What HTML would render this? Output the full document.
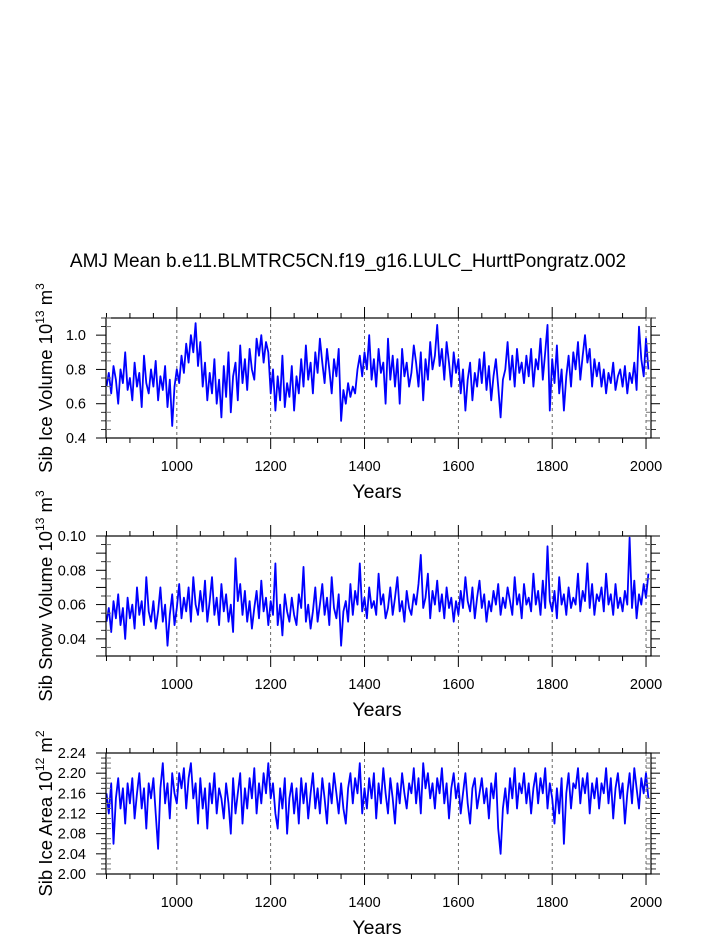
<!DOCTYPE html>
<html><head><meta charset="utf-8"><style>
body{margin:0;background:#fff;}
svg{display:block;font-family:"Liberation Sans",sans-serif;}
</style></head><body>
<svg id="chart" width="723" height="935" viewBox="0 0 723 935" xmlns="http://www.w3.org/2000/svg">
<text x="348" y="267" font-size="19" text-anchor="middle">AMJ Mean b.e11.BLMTRC5CN.f19_g16.LULC_HurttPongratz.002</text>
</svg>
<script>
const startYear = 850, stepYears = 5;
const iceVolume = [
.70,.78,.66,.82,.74,.60,.80,.72,.90,.68,
.75,.62,.84,.70,.78,.58,.88,.72,.66,.80,
.70,.85,.62,.76,.68,.82,.58,.74,.47,.70,
.80,.72,.88,.78,.95,.84,1.00,.90,1.07,.82,
.96,.70,.84,.62,.78,.66,.86,.60,.74,.52,
.82,.64,.90,.55,.76,.84,.62,.94,.72,.86,
.68,.92,.80,.74,.98,.88,1.00,.84,.96,.90,
.66,.80,.56,.76,.62,.88,.58,.72,.64,.82,
.56,.76,.66,.86,.70,.94,.74,.84,.66,.90,
.78,.98,.84,.72,.92,.80,.66,.86,.76,.92,
.50,.68,.60,.72,.64,.70,.66,.80,.88,.76,
.90,.80,1.00,.74,.86,.70,.92,.78,.84,.60,
.98,.74,.88,.70,.86,.60,.92,.76,.84,.70,
.78,.94,.84,.70,.90,.62,.86,.74,.96,.80,
.88,1.06,.82,.92,.74,.96,.84,.70,.90,.78,
.86,.66,.80,.56,.74,.84,.62,.78,.70,.86,
.72,.90,.68,.82,.62,.76,.86,.70,.52,.74,
.80,.96,.74,.88,.70,.92,.78,.84,.72,.88,
.76,.92,.70,.86,.80,.98,.74,.90,1.06,.56,
.86,.72,.94,.66,.80,.56,.76,.88,.70,.90,
.80,.96,.74,.88,1.00,.84,.92,.70,.86,.76,
.84,.70,.80,.66,.78,.72,.84,.68,.76,.80,
.70,.82,.66,.78,.72,.84,.68,1.05,.86,.76,
.98,.80];
const snowVolume = [
.050,.058,.044,.062,.052,.066,.048,.058,.040,.064,
.052,.060,.046,.070,.054,.062,.048,.076,.056,.050,
.062,.046,.056,.070,.050,.060,.036,.054,.066,.048,
.058,.072,.052,.064,.056,.070,.050,.076,.060,.054,
.068,.056,.074,.050,.062,.076,.054,.064,.048,.072,
.056,.066,.050,.060,.044,.087,.062,.072,.054,.068,
.050,.062,.046,.058,.068,.052,.074,.056,.064,.048,
.062,.054,.084,.048,.060,.042,.066,.056,.050,.064,
.054,.048,.066,.058,.082,.050,.060,.046,.056,.070,
.050,.060,.072,.054,.064,.048,.076,.058,.052,.066,
.036,.056,.062,.050,.072,.054,.068,.060,.084,.056,
.064,.052,.070,.058,.062,.054,.078,.060,.066,.052,
.058,.070,.054,.064,.076,.056,.062,.050,.068,.058,
.054,.066,.060,.072,.089,.058,.064,.078,.052,.068,
.060,.074,.056,.066,.052,.070,.058,.064,.050,.062,
.054,.068,.058,.076,.062,.056,.070,.052,.064,.074,
.058,.066,.050,.062,.056,.068,.060,.072,.054,.064,
.058,.070,.062,.054,.076,.060,.066,.052,.072,.060,
.064,.056,.078,.060,.068,.054,.074,.058,.094,.062,
.056,.068,.052,.076,.060,.066,.054,.070,.058,.064,
.060,.078,.056,.068,.062,.084,.058,.072,.054,.066,
.062,.070,.056,.078,.060,.066,.054,.072,.058,.064,
.056,.068,.060,.099,.058,.074,.052,.066,.060,.072,
.064,.078];
const iceArea = [
2.16,2.12,2.18,2.06,2.15,2.19,2.13,2.17,2.10,2.18,
2.14,2.19,2.11,2.16,2.20,2.13,2.17,2.09,2.18,2.15,
2.19,2.12,2.05,2.17,2.22,2.14,2.18,2.11,2.20,2.16,
2.14,2.20,2.17,2.21,2.13,2.19,2.22,2.15,2.18,2.10,
2.19,2.13,2.17,2.09,2.18,2.14,2.20,2.12,2.17,2.15,
2.11,2.18,2.14,2.08,2.19,2.12,2.16,2.20,2.10,2.17,
2.13,2.19,2.15,2.21,2.12,2.18,2.14,2.20,2.16,2.22,
2.15,2.18,2.12,2.09,2.17,2.13,2.19,2.08,2.15,2.18,
2.12,2.17,2.10,2.19,2.14,2.18,2.11,2.16,2.20,2.13,
2.17,2.12,2.19,2.15,2.10,2.18,2.14,2.20,2.16,2.12,
2.18,2.13,2.10,2.17,2.20,2.14,2.19,2.16,2.22,2.12,
2.17,2.13,2.19,2.15,2.20,2.11,2.18,2.14,2.21,2.16,
2.12,2.19,2.15,2.10,2.18,2.14,2.20,2.16,2.13,2.18,
2.16,2.21,2.14,2.19,2.12,2.22,2.17,2.20,2.15,2.18,
2.13,2.19,2.16,2.21,2.14,2.18,2.11,2.17,2.20,2.15,
2.18,2.12,2.16,2.20,2.14,2.10,2.17,2.19,2.13,2.16,
2.19,2.14,2.17,2.11,2.18,2.15,2.20,2.09,2.04,2.13,
2.17,2.12,2.19,2.15,2.21,2.13,2.18,2.16,2.20,2.14,
2.18,2.12,2.17,2.20,2.14,2.19,2.16,2.21,2.13,2.18,
2.15,2.10,2.17,2.12,2.19,2.06,2.16,2.20,2.13,2.18,
2.17,2.21,2.14,2.19,2.16,2.20,2.12,2.18,2.15,2.19,
2.13,2.18,2.16,2.21,2.14,2.19,2.11,2.17,2.20,2.15,
2.18,2.10,2.16,2.20,2.14,2.21,2.17,2.13,2.19,2.16,
2.20,2.15];
const xTicks = [1000,1200,1400,1600,1800,2000];
const iceVolTicks = ["0.4","0.6","0.8","1.0"];
const snowTicks = ["0.04","0.06","0.08","0.10"];
const areaTicks = ["2.00","2.04","2.08","2.12","2.16","2.20","2.24"];

const NS = "http://www.w3.org/2000/svg";
const svg = document.getElementById('chart');
function mk(tag, attrs, parent){
  const e = document.createElementNS(NS, tag);
  for (const k in attrs) e.setAttribute(k, attrs[k]);
  (parent||svg).appendChild(e); return e;
}
const X0 = 106, X1 = 651, Y0 = 849, Y1 = 2010.6;
const xs = y => X0 + (y - Y0) / (Y1 - Y0) * (X1 - X0);

function panel(name, top, bot, ymin, ymax, major, minor, tickLabels, data, title, sup, unit, unitSup){
  const g = mk('g', {});
  
  
  const ys = v => bot - (v - ymin) / (ymax - ymin) * (bot - top);
  xTicks.forEach(t => {
    const l = mk('line', {x1: xs(t), x2: xs(t), y1: top, y2: bot, stroke: '#444', 'stroke-width': 0.8, 'stroke-dasharray': '3,3'}, g);
    
    
  });
  let d = '';
  data.forEach((v, i) => { d += (i ? 'L' : 'M') + xs(startYear + i * stepYears).toFixed(1) + ',' + ys(v).toFixed(1); });
  const p = mk('path', {d: d, fill: 'none', stroke: '#0000ff', 'stroke-width': 1.8, 'stroke-linejoin': 'round'}, g);
  
  
  const r = mk('rect', {x: X0, y: top, width: X1 - X0, height: bot - top, fill: 'none', stroke: '#000', 'stroke-width': 1.2}, g);
  
  
  for (let yr = 850; yr <= 2000; yr += 50) {
    const isMaj = yr % 200 === 0;
    const L = isMaj ? 11 : 5;
    mk('line', {x1: xs(yr), x2: xs(yr), y1: bot, y2: bot + L, stroke: '#000', 'stroke-width': 1}, g);
    mk('line', {x1: xs(yr), x2: xs(yr), y1: top, y2: top - L, stroke: '#000', 'stroke-width': 1}, g);
  }
  xTicks.forEach(t => {
    const tx = mk('text', {x: xs(t), y: bot + 33, 'font-size': 14.5, 'text-anchor': 'middle'}, g);
    tx.textContent = t;
    
    
  });
  const xt = mk('text', {x: 377, y: bot + 60, 'font-size': 19.5, 'text-anchor': 'middle'}, g);
  xt.textContent = 'Years';
  
  
  const nMin = Math.round((ymax - ymin) / minor);
  for (let i = 0; i <= nMin; i++) {
    const v = ymin + i * minor; const y = ys(v);
    const isMaj = Math.abs(((v - ymin) / major) - Math.round((v - ymin) / major)) < 1e-6;
    if (isMaj) {
      mk('line', {x1: X0, x2: X0 - 10, y1: y, y2: y, stroke: '#000', 'stroke-width': 1}, g);
      mk('line', {x1: X1, x2: X1 + 9, y1: y, y2: y, stroke: '#000', 'stroke-width': 1}, g);
    } else {
      mk('line', {x1: X0, x2: X0 + 5, y1: y, y2: y, stroke: '#777', 'stroke-width': 1}, g);
      mk('line', {x1: X1, x2: X1 - 5, y1: y, y2: y, stroke: '#777', 'stroke-width': 1}, g);
      mk('line', {x1: X0, x2: X0 - 5, y1: y, y2: y, stroke: '#000', 'stroke-width': 0.8}, g);
      mk('line', {x1: X1, x2: X1 + 5, y1: y, y2: y, stroke: '#000', 'stroke-width': 0.8}, g);
    }
  }
  tickLabels.forEach(s => {
    const tx = mk('text', {x: X0 - 20, y: ys(parseFloat(s)) + 5, 'font-size': 14.5, 'text-anchor': 'end'}, g);
    tx.textContent = s;
    
    
  });
  const cy = (top + bot) / 2;
  const yt = mk('text', {transform: `translate(52,${cy}) rotate(-90)`, 'font-size': 18.5, 'text-anchor': 'middle'}, g);
  
  
  const t1 = mk('tspan', {}, yt); t1.textContent = title + ' 10';
  const t2 = mk('tspan', {dy: -8, 'font-size': 12}, yt); t2.textContent = sup;
  const t3 = mk('tspan', {dy: 8}, yt); t3.textContent = ' ' + unit;
  const t4 = mk('tspan', {dy: -8, 'font-size': 12}, yt); t4.textContent = unitSup;
}
panel('ice-volume', 318, 438, 0.4, 1.1, 0.2, 0.05, iceVolTicks, iceVolume, 'Sib Ice Volume', '13', 'm', '3');
panel('snow-volume', 536, 656, 0.03, 0.10, 0.01, 0.005, snowTicks, snowVolume, 'Sib Snow Volume', '13', 'm', '3');
panel('ice-area', 753, 874, 2.00, 2.24, 0.04, 0.01, areaTicks, iceArea, 'Sib Ice Area', '12', 'm', '2');
</script>
</body></html>
